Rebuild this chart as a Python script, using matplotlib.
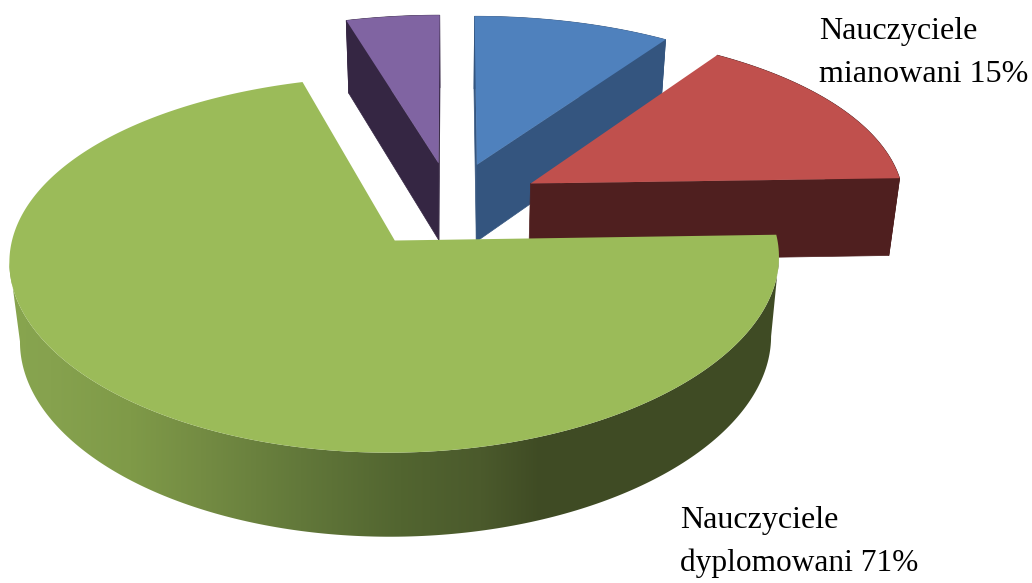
import numpy as np
import matplotlib
matplotlib.use("Agg")
import matplotlib.pyplot as plt
from matplotlib.patches import Polygon

# === Data ===
shares = [9.5, 15, 71, 4.5]
top_colors = ['#4f81bd', '#c0504d', '#9bbb59', '#8064a2']
side_colors = ['#34557f', '#4f1f1f', '#3f4b24', '#352643']
explode = [0.24, 0.245, 0.25, 0.24]
draw_order = [3, 0, 1, 2]   # back to front

# wall shading of the green slice, left to right in pixels
shade_x = [0, 50, 130, 200, 300, 400, 480, 540, 1032]
shade_r = [0x88, 0x86, 0x7f, 0x74, 0x62, 0x52, 0x4b, 0x3f, 0x3f]
shade_g = [0xa6, 0xa2, 0x9a, 0x8c, 0x78, 0x65, 0x5a, 0x4b, 0x4b]
shade_b = [0x4f, 0x4e, 0x48, 0x43, 0x3a, 0x30, 0x2c, 0x24, 0x24]

# === Projection ===
CX, CY = 451, 204
RX, RY = 375, 176
PX, PY, PZ = 0.10, 0.124, 0.06
DEPTH = 78
BOTTOM = 0.976


def project(x, y, z):
    sx = CX + RX * x / (1 - PX * y) * (1 - (1 - BOTTOM) * z)
    sy = CY + RY * y / (1 - PY * y) + DEPTH * z / (1 - PZ * y)
    return sx, sy


fig = plt.figure(figsize=(10.32, 5.83), dpi=100)
ax = fig.add_axes([0, 0, 1, 1])

edges = np.cumsum([0] + shares) * 3.6

for i in draw_order:
    a0, a1 = edges[i], edges[i + 1]
    mid = np.radians((a0 + a1) / 2)
    ox, oy = explode[i] * np.sin(mid), -explode[i] * np.cos(mid)
    ang = np.radians(np.linspace(a0, a1, 300))
    rx = ox + np.sin(ang)
    ry = oy - np.cos(ang)
    layer = draw_order.index(i) * 3

    # radial cut faces, only the ones turned to the viewer
    for a in [a0, a1]:
        ex, ey = ox + np.sin(np.radians(a)), oy - np.cos(np.radians(a))
        sx, sy = project(np.array([ox, ex, ex, ox]), np.array([oy, ey, ey, oy]), np.array([0, 0, 1, 1]))
        area = np.sum(sx * np.roll(sy, -1) - np.roll(sx, -1) * sy)
        if (a == a0) == (area < 0):
            ax.fill(sx, sy, color=side_colors[i], lw=0.5, zorder=1 + layer)

    # outer wall
    tx, ty = project(rx, ry, 0)
    bx, by = project(rx, ry, 1)
    if i == 2:
        # only the front part, between the widest points of the rim
        s, e = np.argmax(tx), np.argmin(tx) + 1
        wall = np.c_[np.r_[tx[s:e], bx[s:e][::-1]], np.r_[ty[s:e], by[s:e][::-1]]]
        px = np.arange(1032)
        grad = np.dstack([np.interp(px, shade_x, shade_r),
                          np.interp(px, shade_x, shade_g),
                          np.interp(px, shade_x, shade_b)])[0][None] / 255
        im = ax.imshow(grad, extent=(0, 1032, 583, 0), aspect='auto', zorder=2 + layer)
        im.set_clip_path(Polygon(wall, transform=ax.transData))
    else:
        ax.fill(np.r_[tx, bx[::-1]], np.r_[ty, by[::-1]], color=side_colors[i], lw=0.5, zorder=2 + layer)

    # top face
    sx, sy = project(np.r_[ox, rx], np.r_[oy, ry], 0)
    ax.fill(sx, sy, color=top_colors[i], lw=0, zorder=3 + layer)

ax.set_xlim(0, 1032)
ax.set_ylim(583, 0)
ax.axis('off')

font = dict(family='Liberation Serif', color='black', zorder=30, va='baseline')
ax.text(819, 39, 'Nauczyciele', fontsize=23.1, **font)
ax.text(819, 82, 'mianowani 15%', fontsize=23.1, **font)
ax.text(680, 528, 'Nauczyciele', fontsize=23.1, **font)
ax.text(680, 571, 'dyplomowani 71%', fontsize=22.6, **font)

fig.savefig('out.png', dpi=100)
